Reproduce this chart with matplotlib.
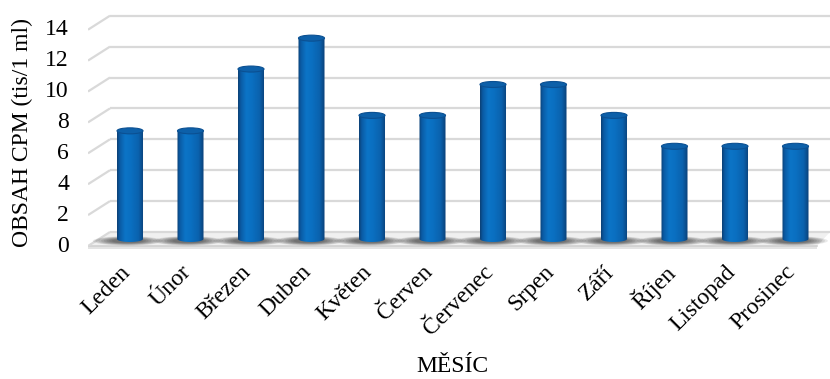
import numpy as np
import matplotlib
matplotlib.use("Agg")
import matplotlib.pyplot as plt
from matplotlib.patches import Ellipse, Polygon
from matplotlib.colors import LinearSegmentedColormap

# ---- data ----
months = ["Leden", "Únor", "Březen", "Duben", "Květen", "Červen",
          "Červenec", "Srpen", "Září", "Říjen", "Listopad", "Prosinec"]
cpm = [7, 7, 11, 13, 8, 8, 10, 10, 8, 6, 6, 6]
y_ticks = [0, 2, 4, 6, 8, 10, 12, 14]
y_title = "OBSAH CPM (tis/1 ml)"
x_title = "MĚSÍC"

plt.rcParams["font.family"] = ["Liberation Serif", "DejaVu Serif"]
FS = 17

W, H = 830, 379
fig = plt.figure(figsize=(W / 100, H / 100), dpi=100)

# pixel layout of the pseudo-3D plot area
px_per_x = 60.5       # distance between category centres
px_per_y = 15.45      # pixels per unit of value
x0_px = 130           # first category centre
base_px = 239         # zero line at mid depth
left_px, right_px = 88, 830
xlim = ((left_px - x0_px) / px_per_x, (right_px - x0_px) / px_per_x)
ylim = (-1.0, 15.0)
bottom_px = base_px - ylim[0] * px_per_y
top_px = base_px - ylim[1] * px_per_y
ax = fig.add_axes([left_px / W, 1 - bottom_px / H,
                   (right_px - left_px) / W, (bottom_px - top_px) / H])
ax.set_xlim(xlim)
ax.set_ylim(ylim)
ax.axis("off")

# depth offsets (half depth of the box), in data units
DX = 11 / px_per_x
DY = 7 / px_per_y
xc = (99 - x0_px) / px_per_x          # left corner at mid depth
x_front_end = (817 - x0_px) / px_per_x

grid_col = "#d9d9d9"

# floor slab
floor = Polygon([(xc - DX, -DY), (x_front_end, -DY), (xlim[1], DY), (xc + DX, DY)],
                closed=True, facecolor="#f0f0f0", edgecolor="none", zorder=0.5)
ax.add_patch(floor)
slab = Polygon([(xc - DX, -DY), (x_front_end, -DY), (x_front_end, -DY - 0.22),
                (xc - DX, -DY - 0.22)],
               closed=True, facecolor="#e3e3e3", edgecolor="none", zorder=0.6)
ax.add_patch(slab)
ax.plot([xc - DX, x_front_end], [-DY, -DY], color="#d0d0d0", lw=1.2, zorder=0.7)

# back-wall gridlines and their side-wall diagonals
for t in y_ticks:
    ax.plot([xc + DX, xlim[1]], [t + DY, t + DY], color=grid_col, lw=1.6,
            solid_capstyle="butt", zorder=1)
    ax.plot([xc - DX, xc + DX], [t - DY, t + DY], color=grid_col, lw=1.6,
            solid_capstyle="butt", zorder=1)
    ax.text((69 - x0_px) / px_per_x, t - DY, str(t), ha="right", va="center",
            fontsize=FS, color="#000000")

# soft shadows of the cylinders on the floor
x_idx = np.arange(len(months))
for x in x_idx:
    for k in range(8):
        ax.add_patch(Ellipse((x - 0.04, -0.12), 1.15 - k * 0.09, 0.6 - k * 0.045,
                             facecolor="black", edgecolor="none", alpha=0.085,
                             zorder=1.5))

# cylinders
bar_w = 0.43
cap_h = 6 / px_per_y
bars = ax.bar(x_idx, cpm, width=bar_w, color="#0a6cbc", zorder=3)

cyl_cmap = LinearSegmentedColormap.from_list(
    "cyl",
    [(0.0, "#0c3f74"), (0.1, "#0a5aa3"), (0.3, "#0c74c6"),
     (0.5, "#0a70c2"), (0.8, "#0a62ae"), (1.0, "#0b4078")])
grad = np.linspace(0, 1, 128)[None, :]

theta = np.linspace(np.pi, 2 * np.pi, 40)
for rect in bars:
    x_l = rect.get_x()
    w = rect.get_width()
    v = rect.get_height()
    xm = x_l + w / 2
    rect.set_visible(False)
    outline = [(x_l, v), (x_l, 0)]
    outline += list(zip(xm + (w / 2) * np.cos(theta), (cap_h / 2) * np.sin(theta)))
    outline += [(x_l + w, 0), (x_l + w, v)]
    clip = Polygon(outline, closed=True, facecolor="none", edgecolor="none")
    ax.add_patch(clip)
    im = ax.imshow(grad, cmap=cyl_cmap, aspect="auto", interpolation="bilinear",
                   extent=[x_l, x_l + w, -cap_h / 2, v], zorder=3)
    im.set_clip_path(clip)
    ax.add_patch(Ellipse((xm, v), w, cap_h, facecolor="#0d60a9",
                         edgecolor="#0b5092", lw=0.8, zorder=4))

ax.set_xlim(xlim)
ax.set_ylim(ylim)

# category labels
for x, name in zip(x_idx, months):
    ax.text(x - 0.05, (base_px - 269) / px_per_y, name, rotation=45,
            rotation_mode="anchor", ha="right", va="center", fontsize=FS,
            color="#000000")

fig.text(22 / W, 1 - 133 / H, y_title, rotation=90, ha="center", va="center",
         fontsize=FS, color="#000000")
fig.text(452 / W, 1 - 366 / H, x_title, ha="center", va="center",
         fontsize=FS, color="#000000")

fig.savefig("out.png", dpi=100, facecolor="white")
